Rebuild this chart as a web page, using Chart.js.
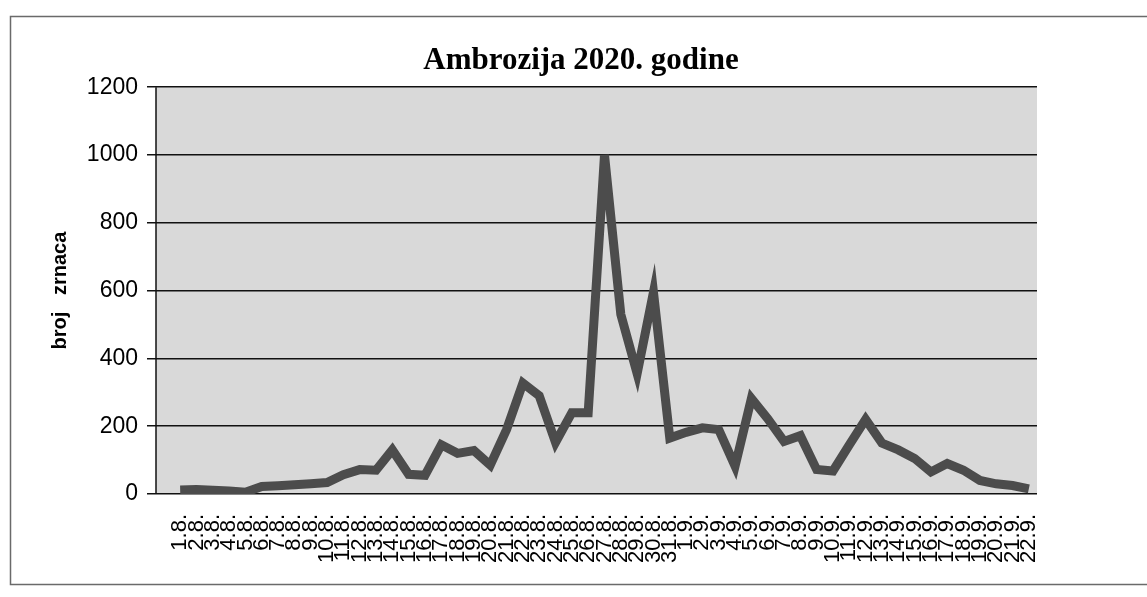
<!DOCTYPE html>
<html>
<head>
<meta charset="utf-8">
<title>Ambrozija 2020. godine</title>
<script src="https://cdn.jsdelivr.net/npm/chart.js@4"></script>
<style>
    html, body { margin: 0; padding: 0; background: #fff; }
    #wrap { width: 1147px; height: 597px; }
</style>
</head>
<body>
<div id="wrap"><canvas id="mycanvas" width="1147" height="597"></canvas></div>
<script>
var days = ['1.8.','2.8.','3.8.','4.8.','5.8.','6.8.','7.8.','8.8.','9.8.','10.8.',
    '11.8.','12.8.','13.8.','14.8.','15.8.','16.8.','17.8.','18.8.','19.8.','20.8.',
    '21.8.','22.8.','23.8.','24.8.','25.8.','26.8.','27.8.','28.8.','29.8.','30.8.','31.8.',
    '1.9.','2.9.','3.9.','4.9.','5.9.','6.9.','7.9.','8.9.','9.9.','10.9.',
    '11.9.','12.9.','13.9.','14.9.','15.9.','16.9.','17.9.','18.9.','19.9.','20.9.','21.9.','22.9.']

var pollen = [12, 13, 11, 9, 5, 22, 24, 27, 30, 34,
    57, 72, 70, 130, 58, 55, 145, 120, 128, 85,
    190, 327, 290, 152, 240, 240, 1000, 530, 355, 595, 165,
    182, 195, 190, 82, 282, 222, 155, 172, 72, 68,
    145, 220, 150, 130, 105, 65, 90, 70, 40, 30, 25, 15]

var yMin = 0
var yMax = 1200
var yStep = 200

// grey plot area, frame round the chart and the y axis line (drawn a bit left of the first point, like excel)
var paper = {
    id: 'paper',
    beforeDraw: function(chart){
        var ctx = chart.ctx
        var a = chart.chartArea
        var axisX = a.left - 16
        ctx.save()
        ctx.fillStyle = '#fff'
        ctx.fillRect(0, 0, chart.width, chart.height)
        ctx.strokeStyle = '#6a6a6a'
        ctx.lineWidth = 1.5
        ctx.strokeRect(10.5, 16.5, chart.width + 20, 568)
        ctx.fillStyle = '#d9d9d9'
        ctx.fillRect(axisX, a.top, a.right - axisX, a.bottom - a.top)
        ctx.restore()
    },
    beforeDatasetsDraw: function(chart){
        var ctx = chart.ctx
        var a = chart.chartArea
        var axisX = a.left - 16
        ctx.save()
        ctx.strokeStyle = '#111'
        ctx.lineWidth = 1.5
        ctx.beginPath()
        ctx.moveTo(axisX, a.top)
        ctx.lineTo(axisX, a.bottom)
        ctx.stroke()
        ctx.restore()
    }
}

function create_line(){
    var context = document.getElementById('mycanvas').getContext('2d')

    new Chart(context, {
        type: 'line',
        data: {
            labels: days,
            datasets: [{
                label: 'Ambrozija',
                data: pollen,
                borderColor: '#4c4c4c',
                borderWidth: 9,
                pointRadius: 0,
                tension: 0,
                fill: false
            }]
        },
        options: {
            responsive: false,
            animation: false,
            layout: {
                padding: { left: 40, right: 25, top: 26, bottom: 10 }
            },
            plugins: {
                legend: { display: false },
                tooltip: { enabled: false },
                title: {
                    display: true,
                    text: 'Ambrozija 2020. godine',
                    color: '#000',
                    font: { family: '"Liberation Serif", "Times New Roman", serif', size: 31, weight: 'bold' },
                    padding: { top: 16, bottom: 8 }
                }
            },
            scales: {
                x: {
                    offset: true,
                    grid: { display: false },
                    border: { display: false },
                    ticks: {
                        autoSkip: false,
                        minRotation: 90,
                        maxRotation: 90,
                        padding: 12,
                        color: '#000',
                        font: { family: '"Liberation Sans", Arial, sans-serif', size: 22 }
                    },
                    afterFit: function(scale){
                        scale.height = 93
                    }
                },
                y: {
                    min: yMin,
                    max: yMax,
                    grid: {
                        color: '#111',
                        lineWidth: 1.5,
                        tickLength: 25,
                        tickColor: '#111'
                    },
                    border: { display: false },
                    ticks: {
                        stepSize: yStep,
                        padding: 9,
                        color: '#000',
                        font: { family: '"Liberation Sans", Arial, sans-serif', size: 23 },
                        callback: function(value){ return String(value) }
                    },
                    title: {
                        display: true,
                        text: 'broj   zrnaca',
                        color: '#000',
                        font: { family: '"Liberation Sans", Arial, sans-serif', size: 20, weight: 'bold' },
                        padding: { top: 8, bottom: 0 }
                    },
                    afterFit: function(scale){
                        scale.width = 132
                    }
                },
                // empty right box, keeps the title centred like the original
                yRight: {
                    position: 'right',
                    display: true,
                    grid: { display: false },
                    border: { display: false },
                    ticks: { display: false },
                    afterFit: function(scale){
                        scale.width = 85
                    }
                }
            }
        },
        plugins: [paper]
    })
}

create_line()
</script>
</body>
</html>
